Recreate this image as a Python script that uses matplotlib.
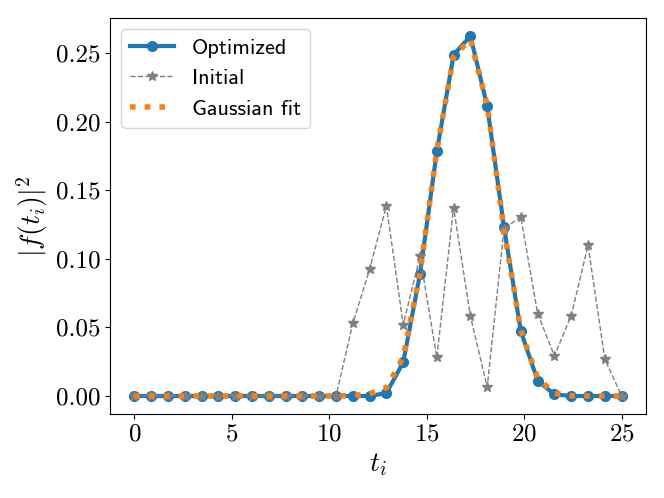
import numpy as np
import matplotlib
matplotlib.use("Agg")
import matplotlib.pyplot as plt

plt.rcParams['font.family'] = 'cmr10'
plt.rcParams['mathtext.fontset'] = 'cm'
plt.rcParams['axes.formatter.use_mathtext'] = True

t = np.linspace(0, 25, 30)

optimized = [0, 0, 0, 0, 0, 0, 0, 0, 0, 0, 0, 0,
             0.0, 0.0, 0.0, 0.0022, 0.0245, 0.0889, 0.1783, 0.2488, 0.2625,
             0.2113, 0.1230, 0.0473, 0.0112, 0.0012, 0.0, 0.0, 0.0, 0.0]

initial = [0, 0, 0, 0, 0, 0, 0, 0, 0, 0, 0, 0,
           0.0, 0.0529, 0.0923, 0.1387, 0.0521, 0.1019, 0.0281, 0.1374, 0.0581,
           0.0065, 0.1219, 0.1307, 0.0601, 0.0293, 0.0586, 0.1099, 0.0269, 0.0]

gauss_fit = [0, 0, 0, 0, 0, 0, 0, 0, 0, 0, 0, 0,
             0.0, 0.0003, 0.0017, 0.0060, 0.0280, 0.0900, 0.1790, 0.2475, 0.2600,
             0.2120, 0.1210, 0.0480, 0.0130, 0.0020, 0.0002, 0.0, 0.0, 0.0]

fig = plt.figure(figsize=(6.64, 4.98), dpi=100)
ax = fig.add_axes([110/664, 1-414/498, (646-110)/664, (414-18)/498])

ax.plot(t, optimized, '-o', color='#1f77b4', lw=3, ms=7, label='Optimized')
ax.plot(t, initial, '--*', color='grey', lw=1, ms=7, label='Initial')
ax.plot(t, gauss_fit, ':', color='#ff7f0e', lw=4, label='Gaussian fit')

ax.set_xlabel(r'$t_i$', fontsize=20)
ax.set_ylabel(r'$|f(t_i)|^2$', fontsize=20)
ax.tick_params(labelsize=18)
ax.set_xticks([0, 5, 10, 15, 20, 25])
ax.set_yticks([0.0, 0.05, 0.10, 0.15, 0.20, 0.25])
ax.set_yticklabels(['0.00', '0.05', '0.10', '0.15', '0.20', '0.25'])
ax.legend(loc='upper left', prop={'family': 'cmss10', 'size': 16})

fig.savefig('out.png', dpi=100)
